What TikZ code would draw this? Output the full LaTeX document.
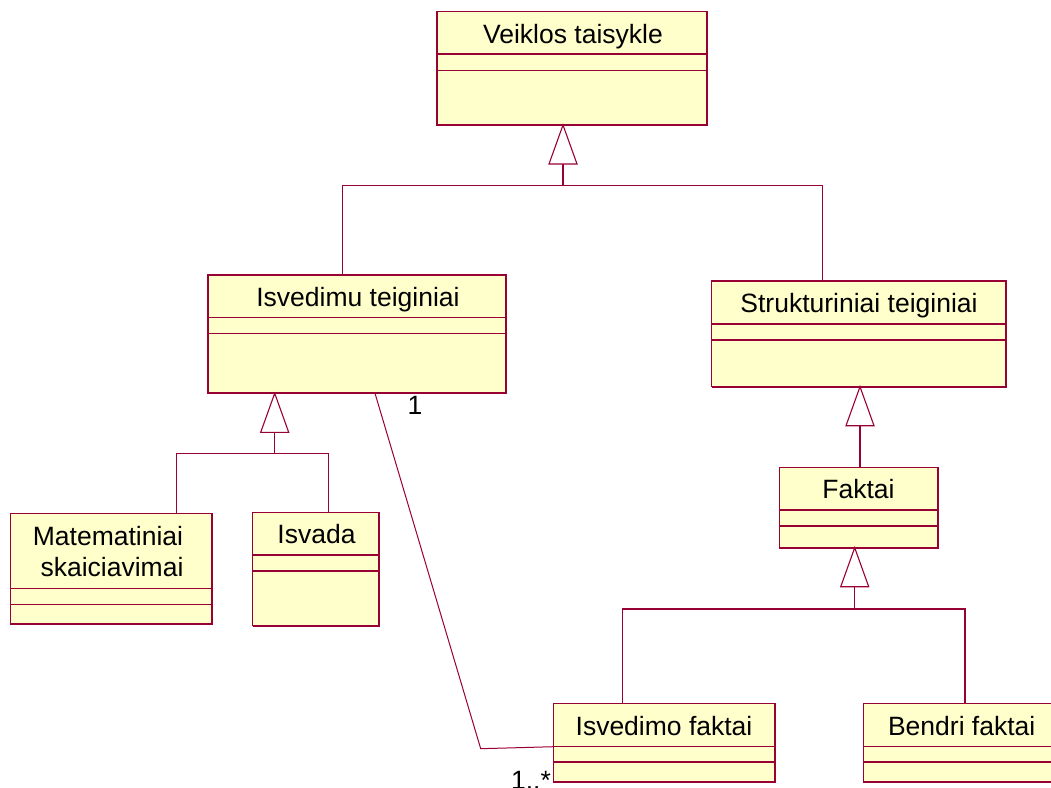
\documentclass[tikz,border=0pt]{standalone}
\usepackage{fontspec}
\setmainfont{Liberation Sans}
\usetikzlibrary{calc}

\definecolor{umlred}{HTML}{990033}
\definecolor{umlfill}{HTML}{FFFFCC}

\tikzset{
  umlline/.style={draw=umlred, line width=1.1pt},
  classbox/.style={rectangle, fill=umlfill, draw=umlred, line width=1.1pt,
                   inner sep=0pt, outer sep=0pt},
  classname/.style={inner sep=0pt, font=\fontsize{26.5}{31}\selectfont, text=black},
  mult/.style={inner sep=0pt, font=\fontsize{26.5}{31}\selectfont, text=black},
  gentri/.style={draw=umlred, line width=1.1pt, fill=white, line join=miter}
}

% class box: name, x1, y1, x2, y2, first separator, second separator
\newcommand\umlclass[7]{%
  \pgfmathsetmacro\boxw{#4-#2}%
  \pgfmathsetmacro\boxh{#5-#3}%
  \node[classbox, minimum width=\boxw pt, minimum height=\boxh pt]
    (#1) at ({(#2+#4)/2},{(#3+#5)/2}) {};
  \draw[umlline] (#2,#6) -- (#4,#6);
  \draw[umlline] (#2,#7) -- (#4,#7);
  \draw[draw=umlred, line width=2pt] (#1.north east) -- (#1.south east) -- (#1.south west);
}

% hollow generalization triangle hanging below an apex coordinate
\newcommand\gentriangle[1]{%
  \draw[gentri] (#1) -- ++(-14,39) -- ++(28,0) -- cycle;
}

\begin{document}
\begin{tikzpicture}[x=1pt, y=-1pt]
\useasboundingbox (0,0) rectangle (1051,787);

% classes
\umlclass{vt}{437}{11.7}{707}{125}{54}{70.3}
\umlclass{isv}{208}{275}{506}{393.3}{317.3}{333.3}
\umlclass{str}{711.7}{281}{1006}{386.7}{324}{340}
\umlclass{fak}{779.3}{467.3}{937.7}{547.7}{510}{526}
\umlclass{mat}{10.3}{513.7}{212}{624}{588.7}{604.3}
\umlclass{isa}{252.7}{512.7}{379.3}{625.7}{555}{571}
\umlclass{ifk}{553.3}{703.3}{775}{781.7}{746.7}{762}
\umlclass{ben}{863.3}{703.3}{1060}{781.7}{746.7}{762}

% class names
\node[classname, anchor=base] (vt-t)  at (573,43.5)  {Veiklos taisykle};
\node[classname, anchor=base] (isv-t) at (358,306)   {Isvedimu teiginiai};
\node[classname, anchor=base] (str-t) at (859,312.5) {Strukturiniai teiginiai};
\node[classname, anchor=base] (fak-t) at (858.5,498.5) {Faktai};
\node[classname, anchor=base] (mat-t1) at (108,545)  {Matematiniai};
\node[classname, anchor=base] (mat-t2) at (112,576)  {skaiciavimai};
\node[classname, anchor=base] (isa-t) at (316.5,543.5) {Isvada};
\node[classname, anchor=base] (ifk-t) at (664,735)   {Isvedimo faktai};
\node[classname, anchor=base] (ben-t) at (961.7,735) {Bendri faktai};

% generalization: Veiklos taisykle
\coordinate (vt-apex) at (563,0 |- vt.south);
\coordinate (vt-bar) at (563,185.3);
\draw[umlline] ($(vt-apex)+(0,39)$) -- (vt-bar);
\draw[umlline] (342.7,0 |- isv.north) -- (342.7,185.3) -- (822.7,185.3) -- (822.7,0 |- str.north);
\gentriangle{vt-apex}

% generalization: Isvedimu teiginiai
\coordinate (isv-apex) at (274.7,0 |- isv.south);
\coordinate (isv-bar) at (274.7,453.3);
\draw[umlline] ($(isv-apex)+(0,39)$) -- (isv-bar);
\draw[umlline] (176.5,0 |- mat.north) -- (176.5,453.3) -- (328.3,453.3) -- (328.3,0 |- isa.north);
\gentriangle{isv-apex}

% generalization: Strukturiniai teiginiai
\coordinate (str-apex) at (860,0 |- str.south);
\draw[umlline] ($(str-apex)+(0,39)$) -- (860,0 |- fak.north);
\gentriangle{str-apex}

% generalization: Faktai
\coordinate (fak-apex) at (854.7,0 |- fak.south);
\coordinate (fak-bar) at (854.7,609);
\draw[umlline] ($(fak-apex)+(0,39)$) -- (fak-bar);
\draw[umlline] (622.7,0 |- ifk.north) -- (622.7,609) -- (965,609) -- (965,0 |- ben.north);
\gentriangle{fak-apex}

% association Isvedimu teiginiai -- Isvedimo faktai
\coordinate (assoc-bend) at (480.7,748.7);
\draw[draw=umlred, line width=1pt] (375,0 |- isv.south) -- (assoc-bend) -- (ifk.west |- 0,746.7);
\node[mult, anchor=base] (m-one) at (415,414) {1};
\node[mult, anchor=base east] (m-many) at (551,789) {1..*};

\end{tikzpicture}
\end{document}
